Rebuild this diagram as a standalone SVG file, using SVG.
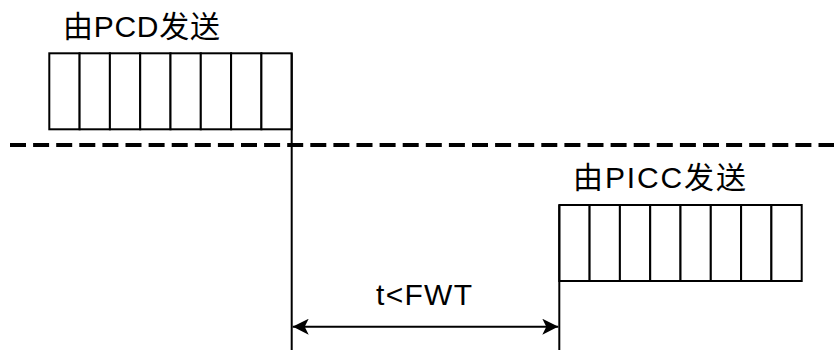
<svg xmlns="http://www.w3.org/2000/svg" width="837" height="350" viewBox="0 0 837 350">
<style>
.ln{stroke:#000;stroke-width:2;fill:none}
.cell{stroke:#000;stroke-width:2;fill:#fff}
.lbl{font-family:"Liberation Sans","Noto Sans CJK SC",sans-serif;font-size:30px;fill:#000}
</style>
<defs>
<marker id="ah" markerWidth="16" markerHeight="16" refX="16" refY="8" orient="auto-start-reverse" markerUnits="userSpaceOnUse">
<path d="M0,0 L16,8 L0,16 L4,8 Z" fill="#000"/>
</marker>
</defs>
<rect width="837" height="350" fill="#fff"/>
<g id="dashed-line">
<line x1="10" y1="145" x2="834" y2="145" stroke="#000" stroke-width="4" stroke-dasharray="16 7.1"/>
</g>
<g id="pcd-frame">
<g class="cell">
<rect x="49.3" y="53.3" width="30.3" height="76"/>
<rect x="79.6" y="53.3" width="30.3" height="76"/>
<rect x="109.9" y="53.3" width="30.3" height="76"/>
<rect x="140.2" y="53.3" width="30.3" height="76"/>
<rect x="170.5" y="53.3" width="30.3" height="76"/>
<rect x="200.8" y="53.3" width="30.3" height="76"/>
<rect x="231.1" y="53.3" width="30.3" height="76"/>
<rect x="261.4" y="53.3" width="30.3" height="76"/>
</g>
<text class="lbl" x="63" y="37" textLength="157">由PCD发送</text>
</g>
<g id="picc-frame">
<g class="cell">
<rect x="559.3" y="205" width="30.3" height="76"/>
<rect x="589.6" y="205" width="30.3" height="76"/>
<rect x="619.9" y="205" width="30.3" height="76"/>
<rect x="650.2" y="205" width="30.3" height="76"/>
<rect x="680.5" y="205" width="30.3" height="76"/>
<rect x="710.8" y="205" width="30.3" height="76"/>
<rect x="741.1" y="205" width="30.3" height="76"/>
<rect x="771.4" y="205" width="30.3" height="76"/>
</g>
<text class="lbl" x="573" y="188" textLength="173">由PICC发送</text>
</g>
<g id="connectors">
<line class="ln" x1="291.7" y1="53.3" x2="291.7" y2="350"/>
<line class="ln" x1="559.3" y1="205" x2="559.3" y2="350"/>
<line class="ln" x1="292.7" y1="326.7" x2="558.3" y2="326.7" marker-start="url(#ah)" marker-end="url(#ah)"/>
</g>
<g id="fwt-label">
<text class="lbl" x="376" y="305" textLength="96">t&lt;FWT</text>
</g>
</svg>
